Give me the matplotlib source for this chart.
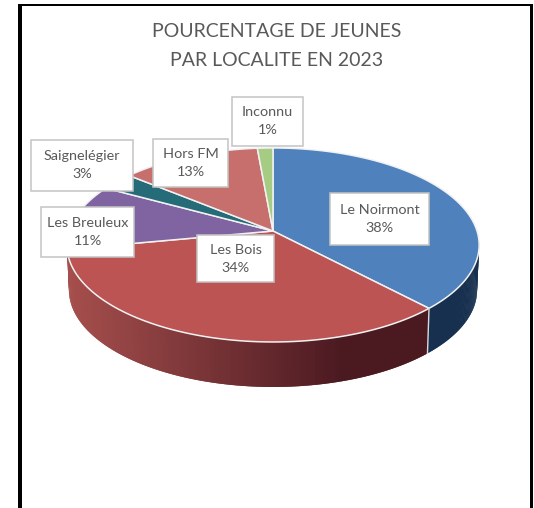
import numpy as np
import matplotlib
matplotlib.use("Agg")
import matplotlib.pyplot as plt
from matplotlib.patches import Polygon, Rectangle
from matplotlib.colors import to_rgb

plt.rcParams['font.family'] = ['Lato', 'DejaVu Sans']

TITLE = "POURCENTAGE DE JEUNES\nPAR LOCALITE EN 2023"
localites = ["Le Noirmont", "Les Bois", "Les Breuleux", "Saignelégier", "Hors FM", "Inconnu"]
pourcents = [38, 34, 11, 3, 13, 1]
# slice sizes as drawn, the printed percents are rounded
parts = [38.0, 34.0, 11.0, 3.0, 12.6, 1.4]
couleurs = ["#4f81bd", "#bb5452", "#8064a2", "#256b78", "#c76f6d", "#a5cc82"]
cotes = ["#17304f", None, None, None, None, None]

# label boxes x0, y0, x1, y1 in pixels
boites = [(330, 193, 429, 245), (197, 235, 274, 282), (41, 207, 134, 257),
          (31, 140, 133, 191), (153, 139, 228, 187), (232, 97, 303, 146)]

# perspective of the pie plane
CX, CY = 273, 231
A, B, K = 204, 95, 0.144
DEPTH = 45


def projette(theta):
    # theta clockwise from the top, in radians
    u = np.sin(theta)
    v = -np.cos(theta)
    w = 1 - K * v
    return CX + A * u / w, CY + B * v / w


def bas(x, y):
    return CX + (x - CX) * 0.99, y + DEPTH


def rouge_cote(x):
    # side of the red slice gets darker to the right
    t = np.clip((x - 70) / 270, 0, 1)
    c0 = np.array(to_rgb("#a54e4c"))
    c1 = np.array(to_rgb("#4b1a21"))
    return c0 + (c1 - c0) * t


fig = plt.figure(figsize=(5.34, 5.08), dpi=100)
ax = fig.add_axes([0, 0, 1, 1])
ax.set_xlim(0, 534)
ax.set_ylim(508, 0)
ax.axis('off')

# black frame, open at the bottom
ax.add_patch(Rectangle((18, 3.5), 3.5, 505, fc='black', ec='none'))
ax.add_patch(Rectangle((18, 3.5), 515, 2.5, fc='black', ec='none'))
ax.add_patch(Rectangle((530, 3.5), 3, 505, fc='black', ec='none'))

bornes = np.radians(np.concatenate([[0], np.cumsum(parts)]) * 3.6)

# rim first: only the front half of the pie shows
# drawn from the left so each strip overlaps the seam of the one before
for i in range(len(parts)):
    debut = max(bornes[i], np.pi / 2 - 0.1)
    fin = min(bornes[i + 1], 3 * np.pi / 2 + 0.1)
    if fin <= debut:
        continue
    t = np.linspace(fin, debut, 120)
    xs, ys = projette(t)
    xb, yb = bas(xs, ys)
    for j in range(len(t) - 1):
        k = min(j + 2, len(t) - 1)
        pts = [(xs[j], ys[j]), (xs[k], ys[k]), (xb[k], yb[k]), (xb[j], yb[j])]
        c = cotes[i] if cotes[i] else rouge_cote(xs[j])
        ax.add_patch(Polygon(pts, closed=True, fc=c, ec='none'))

# pale line between the blue and red sides
x0, y0 = projette(bornes[1])
x1, y1 = bas(x0, y0)
ax.plot([x0, x1], [y0, y1], color='#d9d9d9', lw=1)

# top face
for i in range(len(parts)):
    t = np.linspace(bornes[i], bornes[i + 1], 100)
    xs, ys = projette(t)
    pts = [(CX, CY)] + list(zip(xs, ys))
    ax.add_patch(Polygon(pts, closed=True, fc=couleurs[i], ec='#f2f2f2', lw=1.1, joinstyle='round'))

ax.text(277, 46, TITLE, ha='center', va='center', fontsize=14, color='#595959',
        linespacing=1.8)

for nom, pct, (bx0, by0, bx1, by1) in zip(localites, pourcents, boites):
    ax.add_patch(Rectangle((bx0, by0), bx1 - bx0, by1 - by0, fc='white', ec='#c4c4c4', lw=1.1, zorder=5))
    ax.text((bx0 + bx1) / 2, (by0 + by1) / 2, f"{nom}\n{pct}%", ha='center', va='center',
            fontsize=10.4, color='#595959', linespacing=1.6, zorder=6)

fig.savefig("out.png", dpi=100)
